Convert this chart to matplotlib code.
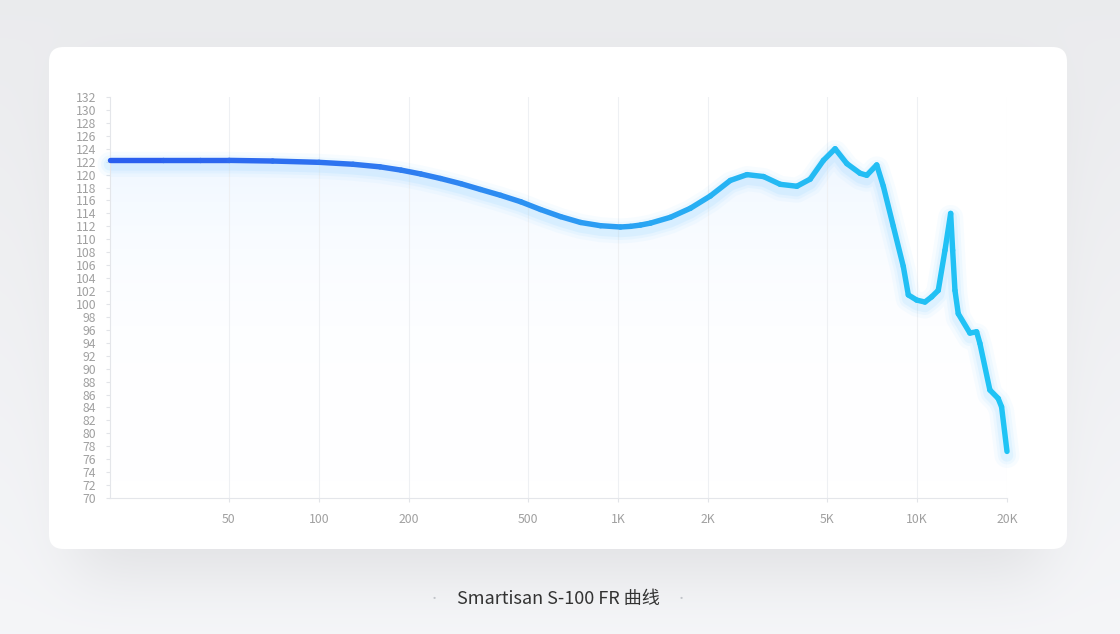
import numpy as np
import matplotlib
matplotlib.use("Agg")
import matplotlib.pyplot as plt
from matplotlib.patches import FancyBboxPatch
from matplotlib.collections import LineCollection
from matplotlib.colors import LinearSegmentedColormap
import matplotlib.transforms as mtransforms

plt.rcParams['font.family'] = ['Noto Sans CJK SC', 'DejaVu Sans']

# frequency response
freq = [20, 30, 40, 50, 70, 100, 130, 160, 188, 219, 255, 298, 347, 405,
        473, 551, 643, 750, 874, 1019, 1101, 1189, 1284, 1497, 1747, 2037,
        2375, 2700, 3068, 3487, 3966, 4393, 4865, 5323, 5826, 6452, 6794,
        7334, 7718, 8334, 9000, 9354, 9977, 10634, 11197, 11779, 12405,
        12960, 13160, 13396, 13740, 15030, 15825, 16235, 17527, 18681,
        19180, 20000]
spl = [122.2, 122.2, 122.2, 122.2, 122.1, 121.9, 121.6, 121.2, 120.7, 120.1,
       119.4, 118.6, 117.7, 116.8, 115.8, 114.6, 113.5, 112.6, 112.1, 111.9,
       112.0, 112.2, 112.5, 113.4, 114.8, 116.7, 119.1, 120.0, 119.7, 118.5,
       118.2, 119.3, 122.2, 124.0, 121.7, 120.2, 119.9, 121.5, 118.2, 112.0,
       105.8, 101.4, 100.6, 100.3, 101.1, 102.1, 108.3, 114.0, 108.3, 102.1,
       98.5, 95.5, 95.7, 93.9, 86.7, 85.4, 84.1, 77.2]

xticks = [50, 100, 200, 500, 1000, 2000, 5000, 10000, 20000]
xlabels = ["50", "100", "200", "500", "1K", "2K", "5K", "10K", "20K"]
yticks = list(range(70, 133, 2))
title = "Smartisan S-100 FR 曲线"

W, H = 1120, 634
fig = plt.figure(figsize=(W / 100, H / 100), dpi=100)

# background with soft card shadow
bg = fig.add_axes([0, 0, 1, 1])
bg.set_axis_off()
yy, xx = np.mgrid[0:H, 0:W]
base = np.linspace(0.925, 0.965, H)[:, None] * np.ones((1, W))
mask = ((xx > 75) & (xx < 1042) & (yy > 80) & (yy < 575)).astype(float)
k = np.exp(-0.5 * (np.arange(-90, 91) / 30.0) ** 2)
k /= k.sum()
blur = np.apply_along_axis(lambda r: np.convolve(r, k, mode="same"), 1, mask)
blur = np.apply_along_axis(lambda c: np.convolve(c, k, mode="same"), 0, blur)
shade = base - 0.07 * blur
img = np.dstack([shade * 0.995, shade * 0.998, shade * 1.008]).clip(0, 1)
bg.imshow(img, extent=[0, 1, 0, 1], aspect="auto", origin="upper")
bg.set_xlim(0, 1)
bg.set_ylim(0, 1)

card = FancyBboxPatch((49 / W, (H - 549) / H), (1067 - 49) / W, (549 - 47) / H,
                      boxstyle="round,pad=0,rounding_size=0.013",
                      mutation_aspect=W / H, transform=fig.transFigure,
                      facecolor="white", edgecolor="none", zorder=2)
bg.add_patch(card)

# chart
ax = fig.add_axes([110 / W, (H - 498) / H, (1007 - 110) / W, (498 - 97) / H])
ax.set_facecolor("none")
ax.set_xscale("log")
ax.set_xlim(20, 20000)
ax.set_ylim(70, 132)

ax.set_xticks(xticks)
ax.set_xticklabels(xlabels)
ax.xaxis.set_minor_locator(matplotlib.ticker.NullLocator())
ax.set_yticks(yticks)
ax.tick_params(axis="both", colors="#e2e4e8", labelcolor="#a0a0a0",
               labelsize=8.8, length=3, width=0.8)
ax.tick_params(axis="x", pad=8)
ax.tick_params(axis="y", pad=7)
for s in ["top", "right"]:
    ax.spines[s].set_visible(False)
for s in ["left", "bottom"]:
    ax.spines[s].set_color("#e4e6ea")
    ax.spines[s].set_linewidth(0.8)
ax.grid(axis="x", color="#eef0f3", linewidth=0.8)

# soft fill under the curve
poly = ax.fill_between(freq, spl, 70, color="none", lw=0)
grad = np.linspace(0.0, 1.0, 256)[:, None] ** 1.5
fill_cmap = LinearSegmentedColormap.from_list(
    "fill", [(1, 1, 1, 0), (0.84, 0.92, 1.0, 0.6)])
im = ax.imshow(grad, extent=[0, 1, 0, 1], transform=ax.transAxes,
               cmap=fill_cmap, aspect="auto", origin="lower", zorder=1)
im.set_clip_path(poly.get_paths()[0], transform=ax.transData)

# glow under the line
off = mtransforms.offset_copy(ax.transData, fig=fig, x=0, y=-4, units="dots")
for lw, a in [(18, 0.05), (13, 0.07), (9, 0.10)]:
    ax.plot(freq, spl, color="#6cc8ff", lw=lw, alpha=a, transform=off,
            solid_capstyle="round", solid_joinstyle="round", zorder=2,
            clip_on=False)

# gradient coloured line
pts = np.column_stack([freq, spl])
segs = np.stack([pts[:-1], pts[1:]], axis=1)
lc_cmap = LinearSegmentedColormap.from_list(
    "line", [(0.0, "#2a5bef"), (0.3, "#2f78f0"), (0.55, "#2b9ef3"),
             (0.72, "#25b8f3"), (1.0, "#20c4f5")])
pos = (np.log10(pts[:-1, 0]) + np.log10(pts[1:, 0])) / 2
pos = (pos - np.log10(20)) / 3
lc = LineCollection(segs, colors=lc_cmap(pos), linewidths=3.9,
                    capstyle="round", joinstyle="round", zorder=3)
lc.set_clip_on(False)
ax.add_collection(lc)

# caption
fig.text(558 / W, 1 - 599 / H, title, ha="center", va="center",
         fontsize=13, color="#333333")
for xd in [434, 681]:
    fig.text(xd / W, 1 - 599 / H, "•", ha="center", va="center",
             fontsize=8, color="#c0c3c8")

fig.savefig("out.png", dpi=100)
